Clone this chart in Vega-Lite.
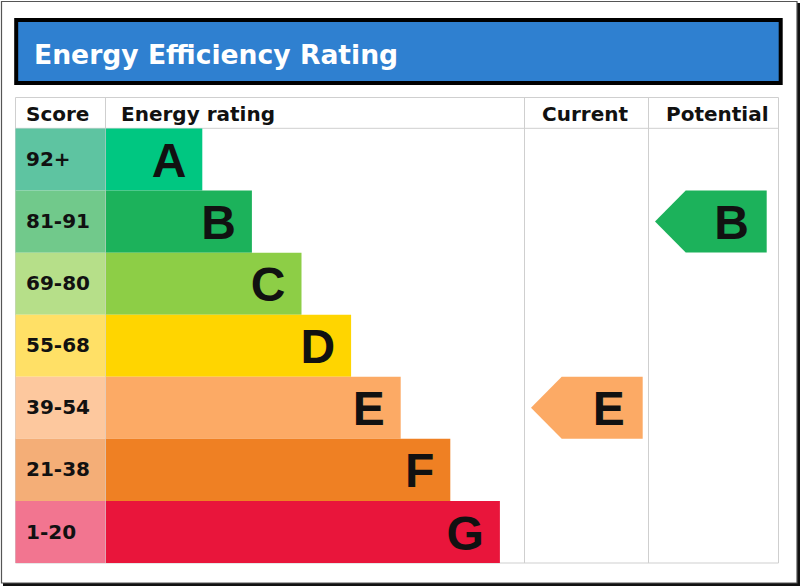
{
  "$schema": "https://vega.github.io/schema/vega-lite/v6.json",
  "width": 800,
  "height": 586,
  "padding": 0,
  "autosize": {"type": "none"},
  "background": "white",
  "config": {"view": {"stroke": null}},
  "datasets": {
    "bands": [
      {"band": "A", "score": "92+", "rank": 1},
      {"band": "B", "score": "81-91", "rank": 2},
      {"band": "C", "score": "69-80", "rank": 3},
      {"band": "D", "score": "55-68", "rank": 4},
      {"band": "E", "score": "39-54", "rank": 5},
      {"band": "F", "score": "21-38", "rank": 6},
      {"band": "G", "score": "1-20", "rank": 7}
    ],
    "ratings": [
      {"column": "Current", "band": "E"},
      {"column": "Potential", "band": "B"}
    ],
    "frame": [{"part": "frame"}]
  },
  "data": {"name": "frame"},
  "layer": [
    {
      "mark": {"type": "rect", "fill": "#111111"},
      "encoding": {
        "x": {"datum": 3, "type": "quantitative", "scale": {"domain": [0, 800], "range": [0, 800], "zero": false, "nice": false}, "axis": null},
        "x2": {"datum": 800},
        "y": {"datum": 3, "type": "quantitative", "scale": {"domain": [0, 586], "range": [0, 586], "zero": false, "nice": false}, "axis": null},
        "y2": {"datum": 586}
      }
    },
    {
      "mark": {"type": "rect", "fill": "white", "stroke": "#555555", "strokeWidth": 1.2},
      "encoding": {
        "x": {"datum": 1.5, "type": "quantitative", "scale": {"domain": [0, 800], "range": [0, 800], "zero": false, "nice": false}, "axis": null},
        "x2": {"datum": 797},
        "y": {"datum": 1.5, "type": "quantitative", "scale": {"domain": [0, 586], "range": [0, 586], "zero": false, "nice": false}, "axis": null},
        "y2": {"datum": 583}
      }
    },
    {
      "mark": {"type": "rect", "fill": "#2f80d0", "stroke": "#000000", "strokeWidth": 4},
      "encoding": {
        "x": {"datum": 16.2, "type": "quantitative", "scale": {"domain": [0, 800], "range": [0, 800], "zero": false, "nice": false}, "axis": null},
        "x2": {"datum": 780.7},
        "y": {"datum": 20, "type": "quantitative", "scale": {"domain": [0, 586], "range": [0, 586], "zero": false, "nice": false}, "axis": null},
        "y2": {"datum": 83}
      }
    },
    {
      "mark": {"type": "text", "text": "Energy Efficiency Rating", "font": "DejaVu Sans", "fontWeight": "bold", "fontSize": 26.6, "fill": "white", "align": "left", "baseline": "alphabetic"},
      "encoding": {
        "x": {"datum": 34, "type": "quantitative", "scale": {"domain": [0, 800], "range": [0, 800], "zero": false, "nice": false}, "axis": null},
        "y": {"datum": 63.5, "type": "quantitative", "scale": {"domain": [0, 586], "range": [0, 586], "zero": false, "nice": false}, "axis": null}
      }
    },
    {
      "mark": {"type": "rect", "fill": "white", "stroke": "#cfcfcf", "strokeWidth": 1},
      "encoding": {
        "x": {"datum": 15.5, "type": "quantitative", "scale": {"domain": [0, 800], "range": [0, 800], "zero": false, "nice": false}, "axis": null},
        "x2": {"datum": 778.5},
        "y": {"datum": 97.5, "type": "quantitative", "scale": {"domain": [0, 586], "range": [0, 586], "zero": false, "nice": false}, "axis": null},
        "y2": {"datum": 563}
      }
    },
    {
      "mark": {"type": "rule", "stroke": "#cfcfcf", "strokeWidth": 1},
      "encoding": {
        "x": {"datum": 105.5, "type": "quantitative", "scale": {"domain": [0, 800], "range": [0, 800], "zero": false, "nice": false}, "axis": null},
        "y": {"datum": 97.5, "type": "quantitative", "scale": {"domain": [0, 586], "range": [0, 586], "zero": false, "nice": false}, "axis": null},
        "y2": {"datum": 563}
      }
    },
    {
      "mark": {"type": "rule", "stroke": "#cfcfcf", "strokeWidth": 1},
      "encoding": {
        "x": {"datum": 524.5, "type": "quantitative", "scale": {"domain": [0, 800], "range": [0, 800], "zero": false, "nice": false}, "axis": null},
        "y": {"datum": 97.5, "type": "quantitative", "scale": {"domain": [0, 586], "range": [0, 586], "zero": false, "nice": false}, "axis": null},
        "y2": {"datum": 563}
      }
    },
    {
      "mark": {"type": "rule", "stroke": "#cfcfcf", "strokeWidth": 1},
      "encoding": {
        "x": {"datum": 648.5, "type": "quantitative", "scale": {"domain": [0, 800], "range": [0, 800], "zero": false, "nice": false}, "axis": null},
        "y": {"datum": 97.5, "type": "quantitative", "scale": {"domain": [0, 586], "range": [0, 586], "zero": false, "nice": false}, "axis": null},
        "y2": {"datum": 563}
      }
    },
    {
      "mark": {"type": "rule", "stroke": "#cfcfcf", "strokeWidth": 1},
      "encoding": {
        "x": {"datum": 15.5, "type": "quantitative", "scale": {"domain": [0, 800], "range": [0, 800], "zero": false, "nice": false}, "axis": null},
        "x2": {"datum": 778.5},
        "y": {"datum": 128.3, "type": "quantitative", "scale": {"domain": [0, 586], "range": [0, 586], "zero": false, "nice": false}, "axis": null}
      }
    },
    {
      "mark": {"type": "text", "text": "Score", "font": "DejaVu Sans", "fontWeight": "bold", "fontSize": 20, "fill": "#111111", "align": "left", "baseline": "alphabetic"},
      "encoding": {
        "x": {"datum": 26, "type": "quantitative", "scale": {"domain": [0, 800], "range": [0, 800], "zero": false, "nice": false}, "axis": null},
        "y": {"datum": 121, "type": "quantitative", "scale": {"domain": [0, 586], "range": [0, 586], "zero": false, "nice": false}, "axis": null}
      }
    },
    {
      "mark": {"type": "text", "text": "Energy rating", "font": "DejaVu Sans", "fontWeight": "bold", "fontSize": 20, "fill": "#111111", "align": "left", "baseline": "alphabetic"},
      "encoding": {
        "x": {"datum": 121, "type": "quantitative", "scale": {"domain": [0, 800], "range": [0, 800], "zero": false, "nice": false}, "axis": null},
        "y": {"datum": 121, "type": "quantitative", "scale": {"domain": [0, 586], "range": [0, 586], "zero": false, "nice": false}, "axis": null}
      }
    },
    {
      "mark": {"type": "text", "text": "Current", "font": "DejaVu Sans", "fontWeight": "bold", "fontSize": 20, "fill": "#111111", "align": "left", "baseline": "alphabetic"},
      "encoding": {
        "x": {"datum": 542, "type": "quantitative", "scale": {"domain": [0, 800], "range": [0, 800], "zero": false, "nice": false}, "axis": null},
        "y": {"datum": 121, "type": "quantitative", "scale": {"domain": [0, 586], "range": [0, 586], "zero": false, "nice": false}, "axis": null}
      }
    },
    {
      "mark": {"type": "text", "text": "Potential", "font": "DejaVu Sans", "fontWeight": "bold", "fontSize": 20, "fill": "#111111", "align": "left", "baseline": "alphabetic"},
      "encoding": {
        "x": {"datum": 666, "type": "quantitative", "scale": {"domain": [0, 800], "range": [0, 800], "zero": false, "nice": false}, "axis": null},
        "y": {"datum": 121, "type": "quantitative", "scale": {"domain": [0, 586], "range": [0, 586], "zero": false, "nice": false}, "axis": null}
      }
    },
    {
      "data": {"name": "bands"},
      "mark": {"type": "rect"},
      "encoding": {
        "x": {"datum": 15.5, "type": "quantitative", "scale": {"domain": [0, 800], "range": [0, 800], "zero": false, "nice": false}, "axis": null},
        "x2": {"datum": 105.5},
        "y": {"field": "band", "type": "nominal", "scale": {"type": "band", "domain": ["A", "B", "C", "D", "E", "F", "G"], "range": [128.5, 563], "paddingInner": 0, "paddingOuter": 0}, "axis": null},
        "color": {"field": "band", "type": "nominal", "scale": {"domain": ["A", "B", "C", "D", "E", "F", "G"], "range": ["#5ec4a1", "#71c98b", "#b6df89", "#ffe066", "#fdc89e", "#f4ae77", "#f27590"]}, "legend": null}
      }
    },
    {
      "data": {"name": "bands"},
      "mark": {"type": "rect"},
      "encoding": {
        "x": {"field": "rank", "type": "quantitative", "scale": {"domain": [0, 7], "range": [152.7, 499.9], "zero": false, "nice": false}, "axis": null},
        "x2": {"datum": -0.9415},
        "y": {"field": "band", "type": "nominal", "scale": {"type": "band", "domain": ["A", "B", "C", "D", "E", "F", "G"], "range": [128.5, 563], "paddingInner": 0, "paddingOuter": 0}, "axis": null},
        "color": {"field": "band", "type": "nominal", "scale": {"domain": ["A", "B", "C", "D", "E", "F", "G"], "range": ["#00c781", "#1cb25b", "#8dce46", "#ffd500", "#fcaa65", "#ef8023", "#e9153b"]}, "legend": null}
      }
    },
    {
      "data": {"name": "bands"},
      "mark": {"type": "text", "font": "DejaVu Sans", "fontWeight": "bold", "fontSize": 20, "fill": "#111111", "align": "left", "baseline": "alphabetic", "dy": 6.5},
      "encoding": {
        "x": {"datum": 26, "type": "quantitative", "scale": {"domain": [0, 800], "range": [0, 800], "zero": false, "nice": false}, "axis": null},
        "y": {"field": "band", "type": "nominal", "scale": {"type": "point", "domain": ["A", "B", "C", "D", "E", "F", "G"], "range": [159.5, 532], "padding": 0}, "axis": null},
        "text": {"field": "score"}
      }
    },
    {
      "data": {"name": "bands"},
      "mark": {"type": "text", "font": "Liberation Sans", "fontWeight": "bold", "fontSize": 48, "fill": "#111111", "align": "right", "baseline": "alphabetic", "dx": -16, "dy": 17.5},
      "encoding": {
        "x": {"field": "rank", "type": "quantitative", "scale": {"domain": [0, 7], "range": [152.7, 499.9], "zero": false, "nice": false}, "axis": null},
        "y": {"field": "band", "type": "nominal", "scale": {"type": "point", "domain": ["A", "B", "C", "D", "E", "F", "G"], "range": [159.5, 532], "padding": 0}, "axis": null},
        "text": {"field": "band"}
      }
    },
    {
      "data": {"name": "ratings"},
      "mark": {"type": "point", "shape": "M-1,0L-0.45,-0.555L1,-0.555L1,0.555L-0.45,0.555Z", "size": 12477, "filled": true, "opacity": 1, "strokeWidth": 0},
      "encoding": {
        "x": {"field": "column", "type": "nominal", "scale": {"type": "point", "domain": ["Current", "Potential"], "range": [586.85, 710.85], "padding": 0}, "axis": null},
        "y": {"field": "band", "type": "nominal", "scale": {"type": "point", "domain": ["A", "B", "C", "D", "E", "F", "G"], "range": [159.5, 532], "padding": 0}, "axis": null},
        "color": {"field": "band", "type": "nominal", "scale": {"domain": ["A", "B", "C", "D", "E", "F", "G"], "range": ["#00c781", "#1cb25b", "#8dce46", "#ffd500", "#fcaa65", "#ef8023", "#e9153b"]}, "legend": null}
      }
    },
    {
      "data": {"name": "ratings"},
      "mark": {"type": "text", "font": "Liberation Sans", "fontWeight": "bold", "fontSize": 48, "fill": "#111111", "align": "right", "baseline": "alphabetic", "dx": 38, "dy": 17.5},
      "encoding": {
        "x": {"field": "column", "type": "nominal", "scale": {"type": "point", "domain": ["Current", "Potential"], "range": [586.85, 710.85], "padding": 0}, "axis": null},
        "y": {"field": "band", "type": "nominal", "scale": {"type": "point", "domain": ["A", "B", "C", "D", "E", "F", "G"], "range": [159.5, 532], "padding": 0}, "axis": null},
        "text": {"field": "band"}
      }
    }
  ],
  "resolve": {"scale": {"x": "independent", "y": "independent", "color": "independent"}}
}
